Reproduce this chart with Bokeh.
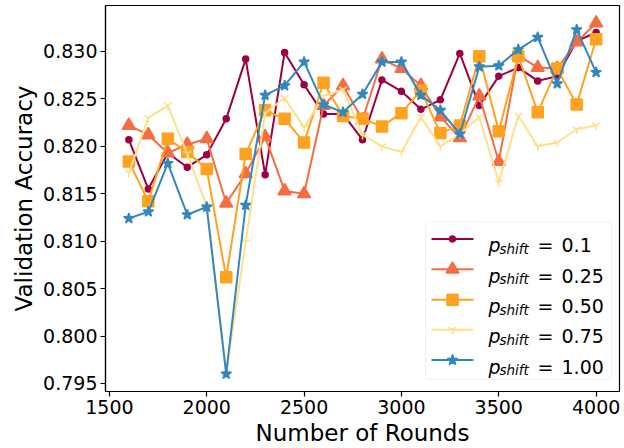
from bokeh.plotting import figure
from bokeh.models import Range1d, FixedTicker, PrintfTickFormatter, BoxAnnotation
from bokeh.core.properties import value
from bokeh.embed import file_html
from bokeh.resources import INLINE

rounds = [1600, 1700, 1800, 1900, 2000, 2100, 2200, 2300, 2400, 2500, 2600, 2700, 2800,
          2900, 3000, 3100, 3200, 3300, 3400, 3500, 3600, 3700, 3800, 3900, 4000]

acc_p010 = [0.8207, 0.8155, 0.8193, 0.8178, 0.8191, 0.8229, 0.8292, 0.8170, 0.8299, 0.8265,
            0.8234, 0.8234, 0.8207, 0.8270, 0.8258, 0.8239, 0.8249, 0.8298, 0.8243, 0.8274,
            0.8283, 0.8269, 0.8274, 0.8311, 0.8320]
acc_p025 = [0.8222, 0.8212, 0.8193, 0.8202, 0.8208, 0.8140, 0.8171, 0.8210, 0.8153, 0.8150,
            0.8243, 0.8264, 0.8228, 0.8292, 0.8282, 0.8264, 0.8231, 0.8209, 0.8253, 0.8184,
            0.8296, 0.8283, 0.8282, 0.8310, 0.8330]
acc_p050 = [0.8184, 0.8142, 0.8208, 0.8194, 0.8176, 0.8062, 0.8192, 0.8238, 0.8229, 0.8204,
            0.8267, 0.8232, 0.8229, 0.8221, 0.8235, 0.8259, 0.8214, 0.8222, 0.8295, 0.8216,
            0.8295, 0.8236, 0.8282, 0.8244, 0.8313]
acc_p075 = [0.8172, 0.8230, 0.8243, 0.8192, 0.8137, 0.7961, 0.8099, 0.8235, 0.8251, 0.8220,
            0.8253, 0.8260, 0.8212, 0.8200, 0.8194, 0.8231, 0.8200, 0.8213, 0.8231, 0.8162,
            0.8232, 0.8200, 0.8204, 0.8218, 0.8222]
acc_p100 = [0.8124, 0.8131, 0.8182, 0.8128, 0.8136, 0.7960, 0.8138, 0.8254, 0.8264, 0.8289,
            0.8244, 0.8236, 0.8255, 0.8289, 0.8289, 0.8254, 0.8238, 0.8213, 0.8284, 0.8285,
            0.8302, 0.8315, 0.8266, 0.8323, 0.8278]

series_values = ["0.1", "0.25", "0.50", "0.75", "1.00"]
x_ticks = [1500, 2000, 2500, 3000, 3500, 4000]
y_ticks = [0.795, 0.800, 0.805, 0.810, 0.815, 0.820, 0.825, 0.830]

colors = ["#9b0044", "#f46d43", "#fea21f", "#fee08b", "#3288bd"]
markers = ["circle", "triangle", "square", "y", "star"]
msizes = [6, 13, 11, 9, 11]
data = [acc_p010, acc_p025, acc_p050, acc_p075, acc_p100]

X0, X1 = 1480, 4120
Y0, Y1 = 0.79415, 0.83485
FL, FR, FT, FB = 105, 619, 5, 392  # frame in pixels

p = figure(width=624, height=448, output_backend="svg", toolbar_location=None,
           x_range=Range1d(X0, X1), y_range=Range1d(Y0, Y1),
           min_border_left=FL, min_border_right=624 - FR, min_border_top=FT,
           min_border_bottom=448 - FB)
p.xgrid.visible = False
p.ygrid.visible = False
p.outline_line_color = "black"
p.outline_line_width = 1.2
p.background_fill_color = "white"
p.border_fill_color = "white"

FONT = "DejaVu Sans"
for ax in (p.xaxis[0], p.yaxis[0]):
    ax.major_label_text_font = FONT
    ax.major_label_text_font_size = "19px"
    ax.major_label_text_color = "black"
    ax.axis_label_text_font = FONT
    ax.axis_label_text_font_size = "23px"
    ax.axis_label_text_font_style = "normal"
    ax.axis_label_text_color = "black"
    ax.minor_tick_line_color = None
    ax.major_tick_in = 0
    ax.major_tick_out = 5
    ax.major_tick_line_width = 1.2
    ax.axis_line_width = 1.2
    ax.major_label_standoff = 3
    ax.axis_label_standoff = 3

p.xaxis.axis_label = "Number of Rounds"
p.yaxis.axis_label = "Validation Accuracy"
p.xaxis.ticker = FixedTicker(ticks=x_ticks)
p.yaxis.ticker = FixedTicker(ticks=y_ticks)
p.yaxis.formatter = PrintfTickFormatter(format="%.3f")

for vals, c, m, s in zip(data, colors, markers, msizes):
    p.line(rounds, vals, line_color=c, line_width=2)
    p.scatter(rounds, vals, marker=m, size=s, fill_color=c, line_color=c, line_width=1.5)


def dx(px):
    return X0 + (px - FL) / (FR - FL) * (X1 - X0)


def dy(py):
    return Y0 + (FB - py) / (FB - FT) * (Y1 - Y0)


# legend (matplotlib style, lower right)
p.add_layout(BoxAnnotation(left=dx(425), right=dx(611), top=dy(222), bottom=dy(380),
                           fill_color="white", fill_alpha=0.85, line_color="#cccccc",
                           line_width=1, border_radius=4, level="annotation"))
rows = [239, 269.5, 300, 330, 360.5]
for py, c, m, s, lab in zip(rows, colors, markers, msizes, series_values):
    p.line([dx(431), dx(473)], [dy(py), dy(py)], line_color=c, line_width=2, level="overlay")
    p.scatter([dx(452)], [dy(py)], marker=m, size=s, fill_color=c, line_color=c,
              line_width=1.5, level="overlay")
    p.text([dx(488)], [dy(py + 6.5)], text=["p"], text_font=value(FONT),
           text_font_style="italic", text_font_size="19px", text_baseline="alphabetic",
           text_color="black", level="overlay")
    p.text([dx(499)], [dy(py + 10)], text=["shift"], text_font=value(FONT),
           text_font_style="italic", text_font_size="13.5px", text_baseline="alphabetic",
           text_color="black", level="overlay")
    p.text([dx(537)], [dy(py + 6.5)], text=["="], text_font=value(FONT),
           text_font_size="19px", text_baseline="alphabetic", text_color="black",
           level="overlay")
    p.text([dx(561)], [dy(py + 6.5)], text=[lab], text_font=value(FONT),
           text_font_size="19px", text_baseline="alphabetic", text_color="black",
           level="overlay")

open("out.html", "w").write(file_html(p, INLINE))
